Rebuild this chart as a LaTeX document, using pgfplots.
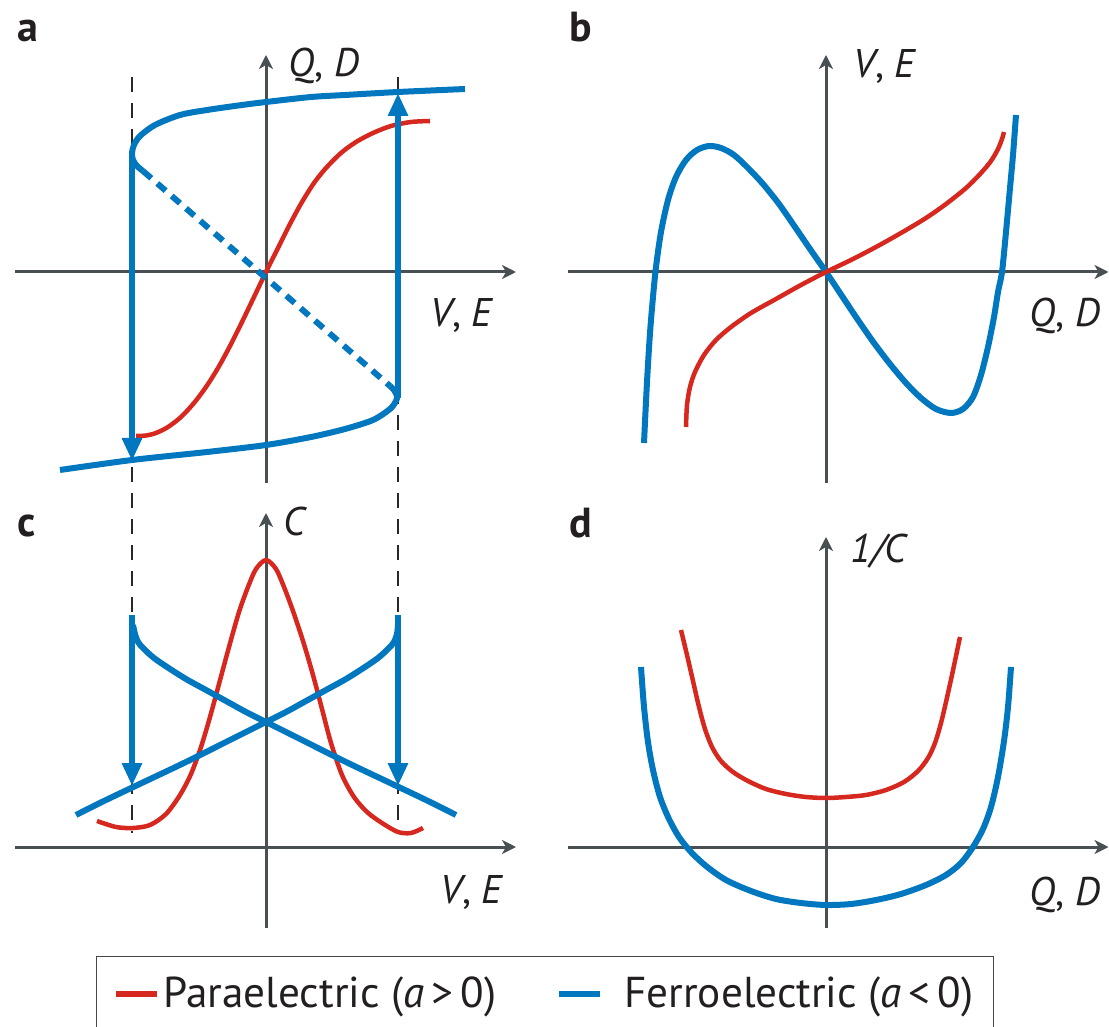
\documentclass[border=0pt]{standalone}
\usepackage{fontspec}
\setmainfont{PT Sans}
\usepackage{pgfplots}
\pgfplotsset{compat=1.18}
\usetikzlibrary{arrows.meta}
\definecolor{cblue}{RGB}{0,119,190}
\definecolor{cred}{RGB}{214,40,30}
\definecolor{axgray}{RGB}{72,80,84}
\definecolor{dashk}{RGB}{40,40,40}
\definecolor{txt}{RGB}{35,31,32}
\definecolor{lgframe}{RGB}{70,70,70}
\newcommand\lblfont{\fontsize{20}{24}\selectfont}
\newcommand\panelfont{\fontsize{21}{25}\selectfont\bfseries}
\newcommand\legfont{\fontsize{21.6}{26}\selectfont}
\tikzset{
  lbl/.style={anchor=base west,inner sep=0pt,font=\lblfont,text=txt},
  plbl/.style={anchor=base west,inner sep=0pt,font=\panelfont,text=txt},
}
\pgfplotsset{
  panel/.style={x=0.5pt,y=0.5pt,anchor=origin,clip=false,
    axis lines=middle,ticks=none,
    axis line style={draw=axgray,line width=1.5pt},
    inner axis line style={-{Stealth[length=7pt,width=7pt,inset=2pt]}}},
  fe/.style={draw=cblue,line width=3pt,smooth,tension=0.5,no marks,line cap=butt},
  pe/.style={draw=cred,line width=2.25pt,smooth,tension=0.5,no marks,line cap=butt},
  farrow/.style={draw=cblue,line width=3pt,no marks,sharp plot,line cap=butt,
    -{Triangle[length=11.5pt,width=9.5pt]}},
  guide/.style={draw=dashk,line width=0.75pt,no marks,dash pattern=on 7.5pt off 5.5pt},
}

\begin{document}
\begin{tikzpicture}
\useasboundingbox (0,0) rectangle (554.5pt,-513.5pt);

% a: Q-V loop
\begin{axis}[panel,at={(133pt,-136pt)},xmin=-250.5,xmax=250,ymin=-211,ymax=217]
\addplot[guide] coordinates {(-134,195) (-134,-561)};
\addplot[guide] coordinates {(132,195) (132,-561)};
\addplot[pe] coordinates {(-130,-164) (-120,-163.5) (-110,-161) (-98,-155) (-85,-145) (-72,-131)
  (-60,-115) (-48,-96) (-36,-74) (-24,-50) (-12,-25) (0,0) (12,24) (24,48) (36,70) (48,89)
  (60,104) (75,119) (90,130) (107,139) (125,146) (145,150) (164,151)};
\addplot[fe] coordinates {(199,183) (132,180) (79,177) (45,175) (0,170) (-24,167) (-59,162)
  (-86,157) (-111,147) (-126,136) (-132,127) (-134,119) (-133,112) (-129,106) (-123,101)};
\addplot[draw=cblue,line width=3pt,no marks,dash pattern=on 5.5pt off 4pt] coordinates {(-123,101) (124,-114)};
\addplot[fe] coordinates {(124,-114) (128,-118) (131,-124) (130,-129) (124,-137) (107,-148)
  (79,-157) (45,-165) (0,-173) (-59,-180) (-134,-188) (-206,-198)};
\addplot[farrow] coordinates {(-134,119) (-134,-189)};
\addplot[farrow] coordinates {(132,-126) (132,179)};
\node[lbl] at (axis cs:22,195) {\textit{Q}, \textit{D}};
\node[lbl] at (axis cs:164,-55) {\textit{V}, \textit{E}};
\node[plbl] at (axis cs:-249,230) {a};
\end{axis}

% b: V-Q
\begin{axis}[panel,at={(413pt,-136pt)},xmin=-258,xmax=282.5,ymin=-211,ymax=217]
\addplot[fe] coordinates {(-182,-171) (-179,-110) (-176,-61) (-173,-25) (-170,5) (-165,40)
  (-158,72) (-150,95) (-140,112) (-129,122) (-117,126) (-105,124) (-92,117) (-78,104) (-63,88)
  (-47,68) (-31,45) (-16,23) (0,0) (16,-24) (32,-48) (48,-71) (64,-92) (80,-111) (95,-126)
  (110,-137) (125,-141) (137,-137) (147,-125) (155,-103) (162,-75) (168,-45) (172,-20) (176,0)
  (180,40) (184,84) (187,117) (190,157)};
\addplot[pe] coordinates {(-140,-155) (-139,-133) (-136,-115) (-131,-100) (-122,-83) (-110,-68)
  (-95,-55) (-75,-41) (-50,-27) (-25,-13) (0,0) (25,12) (50,25) (75,39) (100,54) (120,68)
  (140,84) (155,99) (165,111) (172,123) (176,133) (178,140)};
\node[lbl] at (axis cs:27,194) {\textit{V}, \textit{E}};
\node[lbl] at (axis cs:203,-55) {\textit{Q}, \textit{D}};
\node[plbl] at (axis cs:-257,230) {b};
\end{axis}

% c: C-V
\begin{axis}[panel,at={(133pt,-423.5pt)},xmin=-250.5,xmax=250,ymin=-81,ymax=334,
  legend image code/.code={\draw[#1] (0pt,0pt) -- (20.5pt,0pt);},
  legend columns=2,legend cell align=left,
  legend style={at={(0.1608,-0.0667)},anchor=north west,draw=lgframe,line width=0.7pt,
    inner xsep=8pt,inner ysep=8pt,font=\legfont,text=txt,
    nodes={inner sep=2pt,text depth=0.2em},
    /tikz/every even column/.append style={column sep=28pt}}]
\addlegendimage{draw=cred,line width=3pt}
\addlegendentry{Paraelectric (\textit{a}\,>\,0)}
\addlegendimage{draw=cblue,line width=3pt}
\addlegendentry{\hspace{8.5pt}Ferroelectric (\textit{a}\,<\,0)}
\addplot[pe] coordinates {(-169,26) (-150,20) (-133,19) (-116,22) (-100,33) (-86,52) (-75,73)
  (-65,100) (-56,130) (-47,163) (-37,200) (-27,235) (-18,260) (-10,278) (0,287) (10,278)
  (18,260) (27,236) (37,206) (47,172) (56,138) (65,104) (76,72) (88,50) (101,35) (116,24)
  (132,15) (145,14) (157,19)};
\addplot[fe] coordinates {(-133,222) (-131,213) (-128,205) (-122,198) (-112,189) (-99,180)
  (-80,168) (-60,157) (-40,146) (-20,135) (0,125) (40,105) (80,85) (120,66) (160,47) (190,32)};
\addplot[fe] coordinates {(-190,32) (-160,47) (-120,66) (-80,85) (-40,105) (0,125) (20,135)
  (40,146) (60,157) (80,168) (99,180) (112,189) (122,198) (128,205) (131,213) (132,222)};
\addplot[farrow] coordinates {(-134,232) (-134,61)};
\addplot[farrow] coordinates {(132,232) (132,61)};
\node[lbl] at (axis cs:17,312) {\textit{C}};
\node[lbl] at (axis cs:174,-56) {\textit{V}, \textit{E}};
\node[plbl] at (axis cs:-249,311) {c};
\end{axis}

% d: 1/C-Q
\begin{axis}[panel,at={(413pt,-423.5pt)},xmin=-258,xmax=282.5,ymin=-81,ymax=310]
\addplot[pe] coordinates {(-145,217) (-139,192) (-133,166) (-127,140) (-121,118) (-114,100)
  (-105,86) (-93,75) (-78,66) (-60,58) (-40,53) (-20,50) (0,49) (20,50) (40,52) (60,57) (78,65)
  (92,76) (102,89) (109,104) (115,124) (120,145) (126,172) (134,210)};
\addplot[fe] coordinates {(-185,180) (-182,140) (-178,105) (-173,77) (-166,50) (-157,28)
  (-147,10) (-135,-5) (-120,-19) (-100,-33) (-75,-44) (-50,-52) (-25,-56) (0,-58) (25,-57)
  (50,-53) (75,-47) (100,-38) (120,-28) (135,-16) (147,0) (157,18) (165,40) (172,70) (178,106)
  (182,140) (185,180)};
\node[lbl] at (axis cs:24,285) {\textit{1/C}};
\node[lbl] at (axis cs:203,-58) {\textit{Q}, \textit{D}};
\node[plbl] at (axis cs:-257,310) {d};
\end{axis}
\end{tikzpicture}
\end{document}
